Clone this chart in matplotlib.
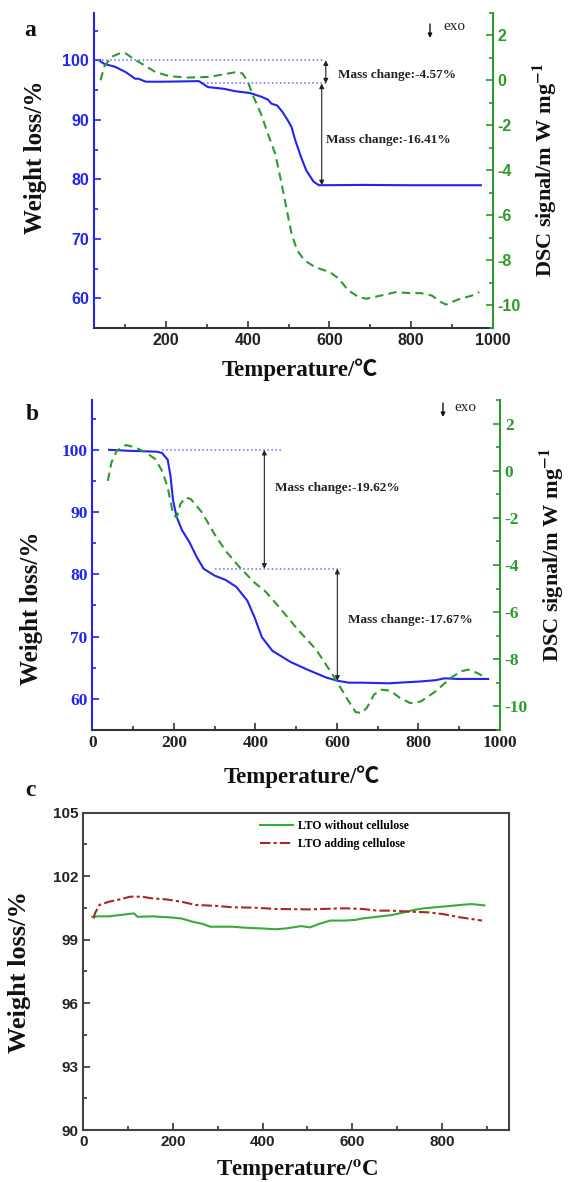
import matplotlib
matplotlib.use('Agg')
import matplotlib.pyplot as plt
from matplotlib.ticker import MultipleLocator
from matplotlib.font_manager import FontProperties

plt.rcParams['font.family'] = ['Liberation Serif', 'Noto Sans CJK SC']
plt.rcParams['mathtext.fontset'] = 'stix'
plt.rcParams['axes.unicode_minus'] = False

# ---- panel a: TGA / DSC ----
ta_T = [35, 48, 75, 101, 124, 132, 150, 191, 240, 280, 302, 342, 369, 405, 432,
        449, 458, 472, 485, 498, 507, 516, 530, 543, 561, 574, 681, 800, 971]
ta_w = [100, 99.4, 98.9, 98.0, 96.9, 96.9, 96.4, 96.4, 96.45, 96.5, 95.5, 95.2,
        94.8, 94.5, 93.9, 93.4, 92.7, 92.4, 91.3, 89.9, 88.8, 86.6, 83.8, 81.5,
        79.6, 79.0, 79.05, 79.0, 79.0]
da_T = [39, 48, 66, 88, 101, 119, 146, 173, 208, 253, 307, 342, 374, 387, 400,
        414, 432, 449, 467, 481, 494, 507, 521, 539, 565, 601, 623, 646, 672,
        690, 726, 762, 797, 824, 851, 873, 886, 913, 949, 967]
da_s = [0, 0.6, 1.04, 1.21, 1.19, 0.96, 0.67, 0.37, 0.18, 0.12, 0.15, 0.27, 0.37,
        0.30, -0.07, -0.74, -1.48, -2.37, -3.26, -4.44, -5.63, -6.81, -7.56,
        -8.0, -8.30, -8.52, -8.81, -9.33, -9.63, -9.70, -9.56, -9.41, -9.45,
        -9.45, -9.56, -9.85, -9.96, -9.75, -9.56, -9.41]

# ---- panel b ----
tb_T = [41, 87, 158, 171, 185, 192, 198, 207, 220, 238, 256, 273, 300, 327, 353,
        380, 398, 416, 442, 487, 531, 575, 602, 629, 664, 726, 753, 806, 842,
        864, 895, 971]
tb_w = [100, 99.85, 99.7, 99.5, 98.4, 95.7, 91.9, 89.2, 87.1, 85.2, 82.8, 80.9,
        79.8, 79.1, 78.0, 75.8, 73.1, 69.9, 67.7, 65.9, 64.6, 63.4, 62.9, 62.6,
        62.6, 62.5, 62.6, 62.8, 63.0, 63.3, 63.2, 63.2]
db_T = [38, 47, 60, 83, 105, 131, 154, 171, 185, 198, 207, 216, 229, 242, 269,
        300, 327, 362, 398, 424, 460, 504, 549, 584, 607, 629, 646, 660, 673,
        691, 709, 731, 753, 780, 806, 842, 877, 904, 922, 944, 966]
db_s = [-0.43, 0.35, 0.85, 1.09, 0.99, 0.78, 0.5, 0.0, -0.71, -1.84, -1.99,
        -1.42, -1.13, -1.21, -1.77, -2.70, -3.40, -4.11, -4.75, -5.11, -5.82,
        -6.74, -7.59, -8.51, -9.15, -9.79, -10.24, -10.28, -10.07, -9.50, -9.29,
        -9.33, -9.62, -9.86, -9.79, -9.36, -8.82, -8.51, -8.44, -8.58, -8.79]

# ---- panel c ----
c_T1 = [20, 32, 57, 97, 113, 121, 154, 194, 219, 243, 267, 283, 332, 364, 397,
        429, 453, 486, 506, 526, 551, 583, 607, 623, 656, 688, 712, 737, 761,
        785, 818, 842, 866, 895]
c_w1 = [100.08, 100.1, 100.1, 100.2, 100.24, 100.08, 100.1, 100.05, 100.0,
        99.85, 99.74, 99.61, 99.61, 99.56, 99.53, 99.49, 99.53, 99.64, 99.58,
        99.74, 99.9, 99.9, 99.93, 100.0, 100.08, 100.16, 100.27, 100.4, 100.48,
        100.53, 100.59, 100.64, 100.68, 100.62]
c_T2 = [23, 26, 36, 57, 81, 105, 130, 154, 186, 219, 251, 300, 332, 381, 429,
        502, 583, 623, 656, 688, 729, 769, 802, 842, 890]
c_w2 = [100.0, 100.24, 100.64, 100.79, 100.9, 101.03, 101.03, 100.95, 100.9,
        100.79, 100.64, 100.59, 100.53, 100.51, 100.45, 100.43, 100.48, 100.45,
        100.37, 100.37, 100.32, 100.29, 100.21, 100.05, 99.9]
c_labels = ['LTO without cellulose', 'LTO adding cellulose']

BLUE = '#2424f0'
GREEN = '#2e9a2e'
DOT = '#6a6aff'
W, H = 569, 1182

fig = plt.figure(figsize=(W / 100, H / 100), dpi=100)


def box(l, t, r, b):
    return [l / W, 1 - b / H, (r - l) / W, (b - t) / H]


def style_tga(ax, ax2, tickfont):
    ax.spines['top'].set_visible(False)
    ax2.spines['top'].set_visible(False)
    ax.spines['left'].set_color(BLUE)
    ax.spines['right'].set_visible(False)
    ax2.spines['left'].set_visible(False)
    ax2.spines['right'].set_color(GREEN)
    ax2.spines['bottom'].set_visible(False)
    ax.spines['bottom'].set_color('#333333')
    for s in ('left', 'bottom'):
        ax.spines[s].set_linewidth(1.5)
    ax2.spines['right'].set_linewidth(1.5)
    ax.set_ylim(55, 108)
    ax2.set_ylim(-11, 3)
    ax.yaxis.set_major_locator(MultipleLocator(10))
    ax.yaxis.set_minor_locator(MultipleLocator(5))
    ax2.yaxis.set_major_locator(MultipleLocator(2))
    ax2.yaxis.set_minor_locator(MultipleLocator(1))
    ax.xaxis.set_major_locator(MultipleLocator(200))
    ax.xaxis.set_minor_locator(MultipleLocator(100))
    ax.tick_params(which='both', direction='in', top=False)
    ax.tick_params(which='major', length=5, width=1.2)
    ax.tick_params(which='minor', length=3, width=1.2)
    ax.tick_params(axis='y', which='both', colors=BLUE)
    ax.tick_params(axis='x', which='both', colors='#333333', labelcolor='#222222')
    ax2.tick_params(which='both', direction='in', colors=GREEN)
    ax2.tick_params(which='major', length=5, width=1.2)
    ax2.tick_params(which='minor', length=3, width=1.2)
    for lab in ax.get_xticklabels() + ax.get_yticklabels() + ax2.get_yticklabels():
        lab.set_fontproperties(tickfont)


sans_tick = dict(family='Liberation Sans', weight='bold', size=11.5)
serif_tick = dict(family='Liberation Serif', weight='bold', size=12.5)

arrow = dict(arrowstyle='<|-|>', color='#222222', lw=0.8, mutation_scale=7,
             shrinkA=0, shrinkB=0)
ann = dict(fontsize=9.5, fontweight='bold', color='#222222')

# ================= panel a =================
ax = fig.add_axes(box(94, 12.7, 492.7, 328))
ax2 = ax.twinx()
ax.plot(ta_T, ta_w, color=BLUE, lw=1.5)
ax2.plot(da_T, da_s, color=GREEN, lw=1.5, dashes=(4, 2.5))
ax.set_xlim(23, 1000)
ax.set_xticks([200, 400, 600, 800, 1000])
style_tga(ax, ax2, FontProperties(**sans_tick))
ax.plot([23, 590], [100, 100], color=DOT, lw=1.1, ls=':')
ax.plot([289, 597], [96.1, 96.1], color=DOT, lw=1.1, ls=':')
ax.annotate('', xy=(591, 96.1), xytext=(591, 100), arrowprops=arrow)
ax.annotate('', xy=(581, 79.0), xytext=(581, 96.1), arrowprops=arrow)
ax.text(621, 97.6, 'Mass change:-4.57%', va='center', **ann)
ax.text(591, 86.6, 'Mass change:-16.41%', va='center', **ann)

# ================= panel b =================
bx = fig.add_axes(box(92.3, 400, 500, 730))
bx2 = bx.twinx()
bx.plot(tb_T, tb_w, color=BLUE, lw=1.5)
bx2.plot(db_T, db_s, color=GREEN, lw=1.5, dashes=(4, 2.5))
bx.set_xlim(0, 1000)
style_tga(bx, bx2, FontProperties(**serif_tick))
bx.plot([170, 462], [100, 100], color=DOT, lw=1.1, ls=':')
bx.plot([300, 610], [80.9, 80.9], color=DOT, lw=1.1, ls=':')
bx.annotate('', xy=(422, 80.9), xytext=(422, 100), arrowprops=arrow)
bx.annotate('', xy=(601, 62.9), xytext=(601, 80.9), arrowprops=arrow)
bx.text(447, 93.9, 'Mass change:-19.62%', va='center', **ann)
bx.text(626, 72.6, 'Mass change:-17.67%', va='center', **ann)

# ================= panel c =================
cx = fig.add_axes(box(83.3, 812.7, 509, 1130))
cx.plot(c_T1, c_w1, color='#3aaa3a', lw=1.5, label=c_labels[0])
cx.plot(c_T2, c_w2, color='#a82828', lw=1.5, ls=(0, (5, 1.5, 1.5, 1.5)),
        label=c_labels[1])
cx.set_xlim(0, 950)
cx.set_ylim(90, 105)
cx.xaxis.set_major_locator(MultipleLocator(200))
cx.xaxis.set_minor_locator(MultipleLocator(100))
cx.yaxis.set_major_locator(MultipleLocator(3))
cx.yaxis.set_minor_locator(MultipleLocator(1.5))
cx.tick_params(which='both', direction='in', colors='#333333', labelcolor='#222222')
cx.tick_params(which='major', length=5, width=1.2)
cx.tick_params(which='minor', length=3, width=1.2)
for s in cx.spines.values():
    s.set_linewidth(1.5)
    s.set_color('#444444')
for lab in cx.get_xticklabels() + cx.get_yticklabels():
    lab.set_fontproperties(FontProperties(family='Liberation Sans', weight='bold', size=11))
cx.legend(loc='upper left', bbox_to_anchor=(0.415, 0.977), frameon=False,
          borderaxespad=0, borderpad=0, handlelength=2.8, handletextpad=0.45,
          labelspacing=0.5, prop=dict(family='Liberation Serif', weight='bold', size=8.5))

# ---- labels ----
big = dict(fontweight='bold', color='#111111')
fig.text(30 / W, 1 - 30 / H, 'a', fontsize=17, ha='center', va='center', **big)
fig.text(32 / W, 1 - 415 / H, 'b', fontsize=17, ha='center', va='center', **big)
fig.text(30 / W, 1 - 790 / H, 'c', fontsize=17, ha='center', va='center', **big)

fig.text(36 / W, 1 - 157 / H, 'Weight loss/%', fontsize=18, rotation=90,
         ha='center', va='center', **big)
fig.text(32 / W, 1 - 608 / H, 'Weight loss/%', fontsize=18, rotation=90,
         ha='center', va='center', **big)
fig.text(20 / W, 1 - 972 / H, 'Weight loss/%', fontsize=19, rotation=90,
         ha='center', va='center', **big)

fig.text(545 / W, 1 - 170 / H, 'DSC signal/m W mg$^{\\mathbf{-1}}$', fontsize=16,
         rotation=90, ha='center', va='center', **big)
fig.text(552 / W, 1 - 555 / H, 'DSC signal/m W mg$^{\\mathbf{-1}}$', fontsize=16,
         rotation=90, ha='center', va='center', **big)

fig.text(300 / W, 1 - 370 / H, 'Temperature/℃', fontsize=16.5, ha='center',
         va='center', **big)
fig.text(302 / W, 1 - 777 / H, 'Temperature/℃', fontsize=16.5, ha='center',
         va='center', **big)
fig.text(297 / W, 1 - 1170 / H, 'Temperature/$^{\\mathbf{o}}$C', fontsize=16.5,
         ha='center', va='center', **big)

# exo markers
for (xa, ya, yb, xt, yt) in [(430, 24, 38, 443, 26), (443, 403, 417, 454, 407)]:
    fig.add_artist(matplotlib.patches.FancyArrowPatch(
        (xa / W, 1 - ya / H), (xa / W, 1 - yb / H), transform=fig.transFigure,
        arrowstyle='-|>', mutation_scale=6, lw=1.0, color='#111111',
        shrinkA=0, shrinkB=0))
    fig.text(xt / W, 1 - yt / H, 'exo', fontsize=11, ha='left',
             va='center', color='#222222')

fig.savefig('out.png', dpi=100)
